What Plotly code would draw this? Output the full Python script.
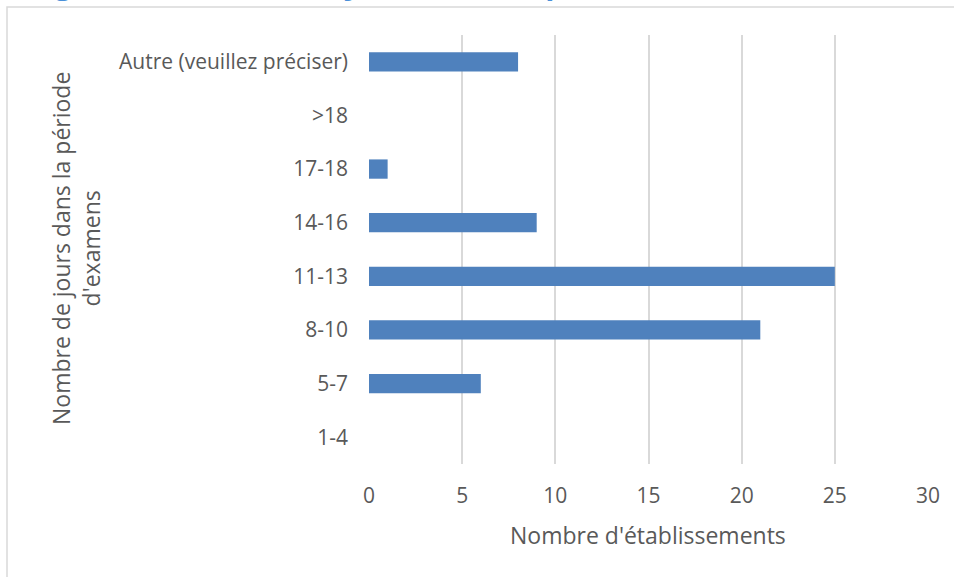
import plotly.graph_objects as go

# Number of exam days per institution (categories listed bottom to top)
categories = ["1-4", "5-7", "8-10", "11-13", "14-16", "17-18", ">18", "Autre (veuillez préciser)"]
counts = [0, 6, 21, 25, 9, 1, 0, 8]
x_ticks = [0, 5, 10, 15, 20, 25, 30]

bar_color = "#4F81BD"
grid_color = "#D9D9D9"
text_color = "#595959"
font_family = "Open Sans, Liberation Sans, sans-serif"

W, H = 954, 577
m_l, m_r, m_t, m_b = 369, 26, 35, 113
plot_w = W - m_l - m_r
plot_h = H - m_t - m_b


def px_x(p):
    return (p - m_l) / plot_w


def px_y(p):
    return (H - m_b - p) / plot_h


fig = go.Figure(
    go.Bar(
        x=counts,
        y=categories,
        orientation="h",
        marker=dict(color=bar_color, line=dict(width=0)),
        width=0.36,
        hoverinfo="x+y",
    )
)

fig.update_layout(
    width=W,
    height=H,
    margin=dict(l=m_l, r=m_r, t=m_t, b=m_b),
    paper_bgcolor="white",
    plot_bgcolor="white",
    showlegend=False,
    font=dict(family=font_family, color=text_color, size=21),
    xaxis=dict(
        range=[0, 30],
        tickvals=x_ticks,
        showgrid=True,
        gridcolor=grid_color,
        gridwidth=1.5,
        zeroline=False,
        showline=False,
        ticks="",
        ticklabelstandoff=17,
        tickfont=dict(size=21, color=text_color),
    ),
    yaxis=dict(
        type="category",
        categoryorder="array",
        categoryarray=categories,
        range=[-0.5, len(categories) - 0.5],
        showgrid=False,
        zeroline=False,
        showline=False,
        ticks="",
        ticklabelstandoff=20,
        tickfont=dict(size=21, color=text_color),
    ),
    shapes=[
        # chart frame
        dict(
            type="rect", xref="paper", yref="paper",
            x0=px_x(7), x1=px_x(W + 20), y0=px_y(H + 20), y1=px_y(7),
            line=dict(color=grid_color, width=1.5), fillcolor="rgba(0,0,0,0)",
            layer="below",
        ),
    ],
    annotations=[
        dict(
            text="Nombre d'établissements",
            xref="paper", yref="paper",
            x=px_x(648), y=px_y(535),
            xanchor="center", yanchor="middle",
            showarrow=False,
            font=dict(size=23, color=text_color),
        ),
        dict(
            text="Nombre de jours dans la période<br>d'examens",
            xref="paper", yref="paper",
            x=px_x(76), y=px_y(249),
            xanchor="center", yanchor="middle",
            textangle=-90,
            showarrow=False,
            font=dict(size=23, color=text_color),
        ),
        dict(
            text="<b>Figure 3 : Nombre de jours dans la période d'examens finaux</b>",
            xref="paper", yref="paper",
            x=px_x(27), y=px_y(5),
            xanchor="left", yanchor="bottom",
            showarrow=False,
            font=dict(size=30, color="#4A90D9"),
        ),
    ],
)

fig.write_html("out.html")
